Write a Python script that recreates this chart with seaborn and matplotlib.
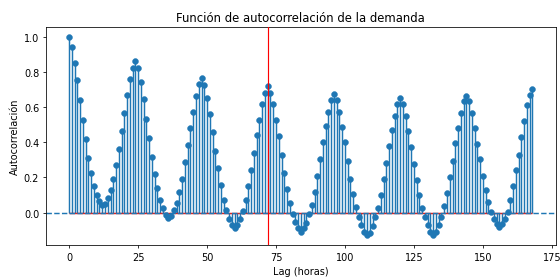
import numpy as np
import matplotlib
matplotlib.use("Agg")
import matplotlib.pyplot as plt
import seaborn as sns

lags = list(range(169))
acf = [
    1.0, 0.94, 0.853, 0.753, 0.64, 0.526, 0.417, 0.311, 0.226, 0.153,
    0.10, 0.066, 0.045, 0.05, 0.085, 0.127, 0.19, 0.27, 0.36, 0.462,
    0.564, 0.668, 0.757, 0.825, 0.864, 0.823, 0.743, 0.647, 0.534, 0.425,
    0.319, 0.221, 0.142, 0.074, 0.025, -0.015, -0.032, -0.017, 0.013, 0.055,
    0.117, 0.192, 0.287, 0.387, 0.483, 0.575, 0.664, 0.73, 0.766, 0.725,
    0.653, 0.56, 0.457, 0.353, 0.253, 0.155, 0.072, 0.013, -0.034, -0.072,
    -0.085, -0.072, -0.034, 0.01, 0.072, 0.149, 0.24, 0.34, 0.44, 0.527,
    0.617, 0.683, 0.719, 0.683, 0.617, 0.527, 0.434, 0.325, 0.226, 0.134,
    0.053, -0.005, -0.055, -0.085, -0.11, -0.085, -0.057, -0.009, 0.042, 0.117,
    0.211, 0.306, 0.4, 0.494, 0.575, 0.64, 0.674, 0.64, 0.575, 0.489,
    0.4, 0.292, 0.192, 0.104, 0.032, -0.025, -0.072, -0.109, -0.128, -0.115,
    -0.077, -0.025, 0.026, 0.102, 0.189, 0.281, 0.379, 0.47, 0.551, 0.617,
    0.651, 0.617, 0.551, 0.466, 0.372, 0.277, 0.187, 0.098, 0.026, -0.025,
    -0.072, -0.109, -0.125, -0.109, -0.072, -0.025, 0.036, 0.113, 0.202, 0.296,
    0.394, 0.481, 0.568, 0.632, 0.666, 0.632, 0.568, 0.48, 0.39, 0.306,
    0.211, 0.130, 0.06, 0.004, -0.034, -0.062, -0.081, -0.062, -0.034, 0.004,
    0.07, 0.149, 0.24, 0.33, 0.432, 0.523, 0.613, 0.67, 0.702,
]
marked_lag = 72
title = "Función de autocorrelación de la demanda"
xlabel = "Lag (horas)"
ylabel = "Autocorrelación"

fig, ax = plt.subplots(figsize=(8.01, 3.97), dpi=70)
fig.subplots_adjust(left=0.082, right=0.991, top=0.900, bottom=0.115)

ax.vlines(lags, 0, acf, color="C0", lw=1.5, zorder=2)
ax.hlines(0, min(lags), max(lags), color="C3", lw=1.5, zorder=2)
sns.scatterplot(x=lags, y=acf, ax=ax, color="C0", s=36, edgecolor="C0",
                linewidth=0.5, zorder=3, legend=False)
ax.axhline(0, color="C0", linestyle="--", lw=1.5, zorder=2.5)
ax.axvline(marked_lag, color="red", lw=1.2, zorder=4)

ax.set_xlim(-8.4, 176.4)
ax.set_ylim(-0.184, 1.056)
ax.set_xticks([0, 25, 50, 75, 100, 125, 150, 175])
ax.set_yticks([0.0, 0.2, 0.4, 0.6, 0.8, 1.0])
ax.set_title(title)
ax.set_xlabel(xlabel)
ax.set_ylabel(ylabel)

fig.savefig("out.png", dpi=70)
